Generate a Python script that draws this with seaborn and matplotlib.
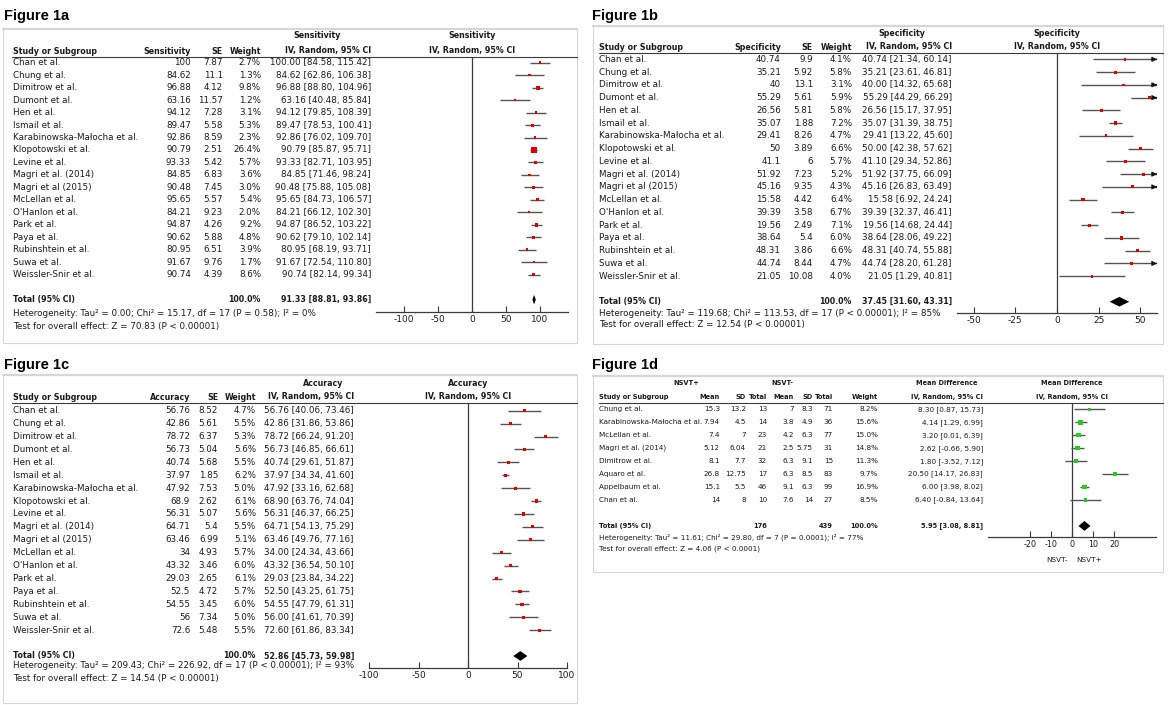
import numpy as np
import pandas as pd
import matplotlib
matplotlib.use("Agg")
import matplotlib.pyplot as plt
from matplotlib.lines import Line2D
import seaborn as sns

# ---------------- data ----------------
studies = ["Chan et al.", "Chung et al.", "Dimitrow et al.", "Dumont et al.", "Hen et al.",
           "Ismail et al.", "Karabinowska-Małocha et al.", "Klopotowski et al.", "Levine et al.",
           "Magri et al. (2014)", "Magri et al (2015)", "McLellan et al.", "O'Hanlon et al.",
           "Park et al.", "Paya et al.", "Rubinshtein et al.", "Suwa et al.", "Weissler-Snir et al."]

# Figure 1a - sensitivity
sens = [100, 84.62, 96.88, 63.16, 94.12, 89.47, 92.86, 90.79, 93.33, 84.85, 90.48, 95.65,
        84.21, 94.87, 90.62, 80.95, 91.67, 90.74]
sens_se = [7.87, 11.1, 4.12, 11.57, 7.28, 5.58, 8.59, 2.51, 5.42, 6.83, 7.45, 5.57, 9.23,
           4.26, 5.88, 6.51, 9.76, 4.39]
sens_w = [2.7, 1.3, 9.8, 1.2, 3.1, 5.3, 2.3, 26.4, 5.7, 3.6, 3.0, 5.4, 2.0, 9.2, 4.8, 3.9, 1.7, 8.6]
sens_lo = [84.58, 62.86, 88.80, 40.48, 79.85, 78.53, 76.02, 85.87, 82.71, 71.46, 75.88, 84.73,
           66.12, 86.52, 79.10, 68.19, 72.54, 82.14]
sens_hi = [115.42, 106.38, 104.96, 85.84, 108.39, 100.41, 109.70, 95.71, 103.95, 98.24, 105.08,
           106.57, 102.30, 103.22, 102.14, 93.71, 110.80, 99.34]
sens_total = [91.33, 88.81, 93.86]
sens_het = "Heterogeneity: Tau² = 0.00; Chi² = 15.17, df = 17 (P = 0.58); I² = 0%"
sens_test = "Test for overall effect: Z = 70.83 (P < 0.00001)"

# Figure 1b - specificity
spec = [40.74, 35.21, 40, 55.29, 26.56, 35.07, 29.41, 50, 41.1, 51.92, 45.16, 15.58, 39.39,
        19.56, 38.64, 48.31, 44.74, 21.05]
spec_se = [9.9, 5.92, 13.1, 5.61, 5.81, 1.88, 8.26, 3.89, 6, 7.23, 9.35, 4.42, 3.58, 2.49,
           5.4, 3.86, 8.44, 10.08]
spec_w = [4.1, 5.8, 3.1, 5.9, 5.8, 7.2, 4.7, 6.6, 5.7, 5.2, 4.3, 6.4, 6.7, 7.1, 6.0, 6.6, 4.7, 4.0]
spec_lo = [21.34, 23.61, 14.32, 44.29, 15.17, 31.39, 13.22, 42.38, 29.34, 37.75, 26.83, 6.92,
           32.37, 14.68, 28.06, 40.74, 28.20, 1.29]
spec_hi = [60.14, 46.81, 65.68, 66.29, 37.95, 38.75, 45.60, 57.62, 52.86, 66.09, 63.49, 24.24,
           46.41, 24.44, 49.22, 55.88, 61.28, 40.81]
spec_total = [37.45, 31.60, 43.31]
spec_het = "Heterogeneity: Tau² = 119.68; Chi² = 113.53, df = 17 (P < 0.00001); I² = 85%"
spec_test = "Test for overall effect: Z = 12.54 (P < 0.00001)"

# Figure 1c - accuracy
acc = [56.76, 42.86, 78.72, 56.73, 40.74, 37.97, 47.92, 68.9, 56.31, 64.71, 63.46, 34, 43.32,
       29.03, 52.5, 54.55, 56, 72.6]
acc_se = [8.52, 5.61, 6.37, 5.04, 5.68, 1.85, 7.53, 2.62, 5.07, 5.4, 6.99, 4.93, 3.46, 2.65,
          4.72, 3.45, 7.34, 5.48]
acc_w = [4.7, 5.5, 5.3, 5.6, 5.5, 6.2, 5.0, 6.1, 5.6, 5.5, 5.1, 5.7, 6.0, 6.1, 5.7, 6.0, 5.0, 5.5]
acc_lo = [40.06, 31.86, 66.24, 46.85, 29.61, 34.34, 33.16, 63.76, 46.37, 54.13, 49.76, 24.34,
          36.54, 23.84, 43.25, 47.79, 41.61, 61.86]
acc_hi = [73.46, 53.86, 91.20, 66.61, 51.87, 41.60, 62.68, 74.04, 66.25, 75.29, 77.16, 43.66,
          50.10, 34.22, 61.75, 61.31, 70.39, 83.34]
acc_total = [52.86, 45.73, 59.98]
acc_het = "Heterogeneity: Tau² = 209.43; Chi² = 226.92, df = 17 (P < 0.00001); I² = 93%"
acc_test = "Test for overall effect: Z = 14.54 (P < 0.00001)"

# Figure 1d - mean difference NSVT+ vs NSVT-
md_studies = ["Chung et al.", "Karabinowska-Małocha et al.", "McLellan et al.", "Magri et al. (2014)",
              "Dimitrow et al.", "Aquaro et al.", "Appelbaum et al.", "Chan et al."]
pos_mean = [15.3, 7.94, 7.4, 5.12, 8.1, 26.8, 15.1, 14]
pos_sd = [13.2, 4.5, 7, 6.04, 7.7, 12.75, 5.5, 8]
pos_n = [13, 14, 23, 21, 32, 17, 46, 10]
neg_mean = [7, 3.8, 4.2, 2.5, 6.3, 6.3, 9.1, 7.6]
neg_sd = [8.3, 4.9, 6.3, 5.75, 9.1, 8.5, 6.3, 14]
neg_n = [71, 36, 77, 31, 15, 83, 99, 27]
md_w = [8.2, 15.6, 15.0, 14.8, 11.3, 9.7, 16.9, 8.5]
md = [8.30, 4.14, 3.20, 2.62, 1.80, 20.50, 6.00, 6.40]
md_lo = [0.87, 1.29, 0.01, -0.66, -3.52, 14.17, 3.98, -0.84]
md_hi = [15.73, 6.99, 6.39, 5.90, 7.12, 26.83, 8.02, 13.64]
md_total = [5.95, 3.08, 8.81]
md_total_n = [176, 439]
md_het = "Heterogeneity: Tau² = 11.61; Chi² = 29.80, df = 7 (P = 0.0001); I² = 77%"
md_test = "Test for overall effect: Z = 4.06 (P < 0.0001)"

# ---------------- style ----------------
sns.set_style("white")
plt.rcParams["font.family"] = ["DejaVu Sans"]
plt.rcParams["axes.unicode_minus"] = False

W, H = 1170, 705
TXT = "#1a1a1a"
AXC = "#3a3a3a"
BOX = "#d6d6d6"
CIC = "#555555"

fig = plt.figure(figsize=(W / 100, H / 100), dpi=100)
fig.patch.set_facecolor("white")

FS = {"r": 6.3, "b": 5.7}


def T(x, y, s, ha="left", bold=False, size=None, color=TXT, family=None):
    if size is None:
        size = FS["b"] if bold else FS["r"]
    kw = {}
    if family:
        kw["family"] = family
    fig.text(x / W, 1 - y / H, s, ha=ha, va="center", fontsize=size,
             fontweight="bold" if bold else "normal", color=color, **kw)


def L(x0, x1, y0, y1, color, lw):
    fig.add_artist(Line2D([x0 / W, x1 / W], [1 - y0 / H, 1 - y1 / H], color=color, lw=lw))


def box(x0, y0, x1, y1):
    L(x0, x1, y0, y0, BOX, 1.6)
    L(x0, x0, y0, y1, BOX, 0.8)
    L(x1, x1, y0, y1, BOX, 0.8)
    L(x0, x1, y1, y1, BOX, 0.8)


def g(v):
    return f"{v:g}"


def ci(e, l, h):
    return f"{e:.2f} [{l:.2f}, {h:.2f}]"


def forest(x0, x1, ytop, ybot, row0, step, xlim, ticks, est, lo, hi, w, tot, color, tick_fs):
    ax = fig.add_axes([x0 / W, 1 - ybot / H, (x1 - x0) / W, (ybot - ytop) / H])
    n = len(est)
    rows = np.arange(n)
    lo_a = np.clip(np.array(lo), xlim[0], xlim[1])
    hi_a = np.clip(np.array(hi), xlim[0], xlim[1])
    ax.hlines(rows, lo_a, hi_a, color=CIC, lw=1.0, zorder=2)
    for r, h in zip(rows, hi):
        if h > xlim[1]:
            ax.annotate("", xy=(xlim[1], r), xytext=(xlim[1] - 0.5, r),
                        arrowprops=dict(arrowstyle="-|>", mutation_scale=7, color="#111111",
                                        lw=0.8, shrinkA=0, shrinkB=0),
                        annotation_clip=False)
    df = pd.DataFrame({"est": est, "row": rows, "w": w})
    sns.scatterplot(data=df, x="est", y="row", size="w", sizes=(1.5, 19.5), size_norm=(0, 30),
                    marker="s", color=color, linewidth=0, legend=False, ax=ax, zorder=3)
    ty = n + 1
    e, l, h = tot
    ax.fill([l, e, h, e], [ty, ty - 0.38, ty, ty + 0.38], color="black", lw=0, zorder=3)
    ax.axvline(0, color=AXC, lw=0.9, zorder=1)
    for s in ["left", "top", "right"]:
        ax.spines[s].set_visible(False)
    ax.spines["bottom"].set_color(AXC)
    ax.spines["bottom"].set_linewidth(0.9)
    ax.set_xticks(ticks)
    ax.set_yticks([])
    ax.tick_params(axis="x", direction="in", length=4, width=0.8, color=AXC,
                   labelsize=tick_fs, labelcolor=TXT, pad=2, bottom=True)
    ax.set_xlabel("")
    ax.set_ylabel("")
    ax.set_xlim(*xlim)
    ax.set_ylim((ybot - row0) / step, (ytop - row0) / step)
    ax.patch.set_alpha(0)
    return ax


def table(names, row0, step, xname, cols, total_cells, het, test, y_het, y_test):
    n = len(names)
    for i, nm in enumerate(names):
        y = row0 + step * i
        T(xname, y, nm)
        for xr, vals in cols:
            T(xr, y, vals[i], ha="right")
    yt = row0 + step * (n + 1)
    T(xname, yt, "Total (95% CI)", bold=True)
    for xr, s in total_cells:
        T(xr, yt, s, ha="right", bold=True)
    T(xname, y_het, het)
    T(xname, y_test, test)


TITLE = dict(bold=True, size=10.5, color="black", family="Liberation Sans")

# ================= Figure 1a =================
T(4, 16, "Figure 1a", **TITLE)
box(3, 29, 577, 343)
L(12, 577, 57, 57, AXC, 0.8)
T(317, 36, "Sensitivity", ha="center", bold=True)
T(13, 51, "Study or Subgroup", bold=True)
T(191, 51, "Sensitivity", ha="right", bold=True)
T(223, 51, "SE", ha="right", bold=True)
T(261, 51, "Weight", ha="right", bold=True)
T(371, 51, "IV, Random, 95% CI", ha="right", bold=True)
T(472, 36, "Sensitivity", ha="center", bold=True)
T(472, 51, "IV, Random, 95% CI", ha="center", bold=True)
table(studies, 62.7, 12.47, 13,
      [(191, [g(v) for v in sens]), (223, [g(v) for v in sens_se]),
       (261, [f"{v:.1f}%" for v in sens_w]),
       (371, [ci(e, l, h) for e, l, h in zip(sens, sens_lo, sens_hi)])],
      [(261, "100.0%"), (371, ci(*sens_total))], sens_het, sens_test, 313, 326)
forest(376, 568, 57, 312, 62.7, 12.47, (-141.2, 141.2), [-100, -50, 0, 50, 100],
       sens, sens_lo, sens_hi, sens_w, sens_total, "#e00000", 6.5)

# ================= Figure 1b =================
T(592, 16, "Figure 1b", **TITLE)
box(593, 26, 1163, 344)
L(599, 1163, 53, 53, AXC, 0.8)
T(902, 33, "Specificity", ha="center", bold=True)
T(599, 47, "Study or Subgroup", bold=True)
T(781, 47, "Specificity", ha="right", bold=True)
T(813, 47, "SE", ha="right", bold=True)
T(852, 47, "Weight", ha="right", bold=True)
T(952, 47, "IV, Random, 95% CI", ha="right", bold=True)
T(1057, 33, "Specificity", ha="center", bold=True)
T(1057, 47, "IV, Random, 95% CI", ha="center", bold=True)
table(studies, 59.3, 12.76, 599,
      [(781, [g(v) for v in spec]), (813, [g(v) for v in spec_se]),
       (852, [f"{v:.1f}%" for v in spec_w]),
       (952, [ci(e, l, h) for e, l, h in zip(spec, spec_lo, spec_hi)])],
      [(852, "100.0%"), (952, ci(*spec_total))], spec_het, spec_test, 313, 325)
forest(957, 1157, 53, 313, 59.3, 12.76, (-60, 60), [-50, -25, 0, 25, 50],
       spec, spec_lo, spec_hi, spec_w, spec_total, "#e00000", 6.5)

# ================= Figure 1c =================
T(4, 365, "Figure 1c", **TITLE)
box(3, 375, 577, 703)
L(12, 577, 403, 403, AXC, 0.8)
T(323, 383, "Accuracy", ha="center", bold=True)
T(13, 397, "Study or Subgroup", bold=True)
T(190, 397, "Accuracy", ha="right", bold=True)
T(218, 397, "SE", ha="right", bold=True)
T(256, 397, "Weight", ha="right", bold=True)
T(354, 397, "IV, Random, 95% CI", ha="right", bold=True)
T(468, 383, "Accuracy", ha="center", bold=True)
T(468, 397, "IV, Random, 95% CI", ha="center", bold=True)
table(studies, 410.7, 12.91, 13,
      [(190, [g(v) for v in acc]), (218, [g(v) for v in acc_se]),
       (256, [f"{v:.1f}%" for v in acc_w]),
       (354, [ci(e, l, h) for e, l, h in zip(acc, acc_lo, acc_hi)])],
      [(256, "100.0%"), (354, ci(*acc_total))], acc_het, acc_test, 666, 678)
forest(369, 567, 403, 668, 410.7, 12.91, (-100, 100), [-100, -50, 0, 50, 100],
       acc, acc_lo, acc_hi, acc_w, acc_total, "#e00000", 6.5)

# ================= Figure 1d =================
FS["r"], FS["b"] = 5.2, 4.75
T(592, 365, "Figure 1d", **TITLE)
box(593, 376, 1163, 572)
L(599, 1163, 403, 403, AXC, 0.8)
T(686, 383, "NSVT+", ha="center", bold=True)
T(782, 383, "NSVT-", ha="center", bold=True)
T(947, 383, "Mean Difference", ha="center", bold=True)
T(599, 397, "Study or Subgroup", bold=True)
for xr, hd in [(720, "Mean"), (746, "SD"), (767, "Total"), (794, "Mean"), (813, "SD"),
               (833, "Total"), (878, "Weight"), (983, "IV, Random, 95% CI")]:
    T(xr, 397, hd, ha="right", bold=True)
T(1072, 383, "Mean Difference", ha="center", bold=True)
T(1072, 397, "IV, Random, 95% CI", ha="center", bold=True)
table(md_studies, 409.3, 12.96, 599,
      [(720, [g(v) for v in pos_mean]), (746, [g(v) for v in pos_sd]), (767, [g(v) for v in pos_n]),
       (794, [g(v) for v in neg_mean]), (813, [g(v) for v in neg_sd]), (833, [g(v) for v in neg_n]),
       (878, [f"{v:.1f}%" for v in md_w]),
       (983, [ci(e, l, h) for e, l, h in zip(md, md_lo, md_hi)])],
      [(767, str(md_total_n[0])), (833, str(md_total_n[1])), (878, "100.0%"), (983, ci(*md_total))],
      md_het, md_test, 537, 549)
forest(988, 1156, 403, 537, 409.3, 12.96, (-40, 40), [-20, -10, 0, 10, 20],
       md, md_lo, md_hi, md_w, md_total, "#22cc22", 5.8)
T(1068, 560, "NSVT-", ha="right")
T(1076, 560, "NSVT+", ha="left")

fig.savefig("out.png", dpi=100, facecolor="white")
